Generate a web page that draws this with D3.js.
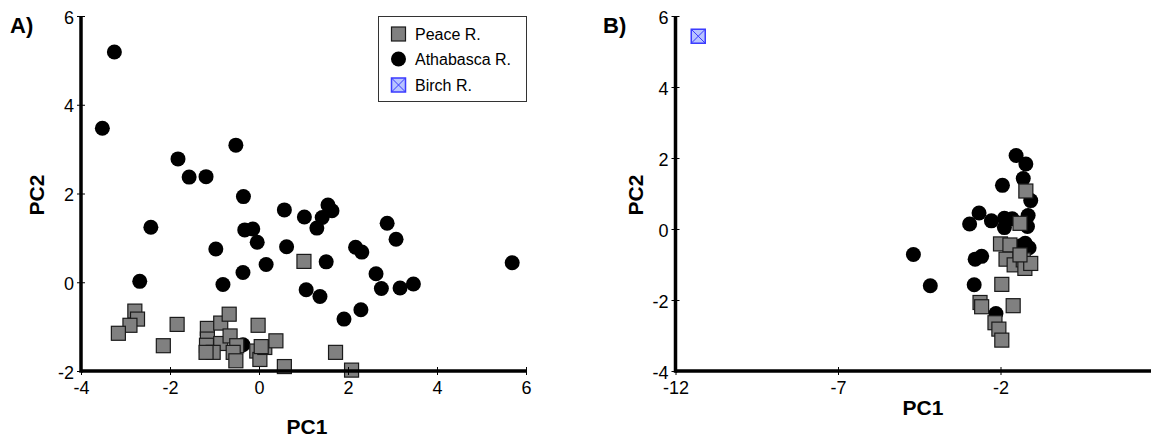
<!DOCTYPE html>
<html lang="en">
<head>
    <meta charset="UTF-8">
    <title>PCA scores</title>
    <script src="https://d3js.org/d3.v7.min.js"></script>
    <style>
        body { margin: 0; background: #fff; font-family: "Liberation Sans", Arial, sans-serif; }
        svg { display: block; }
        .axis text { font-family: "Liberation Sans", Arial, sans-serif; font-size: 18px; fill: #000; }
        .axis .domain { stroke: #000; stroke-width: 3.5px; }
        .axis .tick line { stroke: #000; stroke-width: 1px; }
        .title { font-weight: bold; font-size: 21px; }
        .panel { font-weight: bold; font-size: 22px; }
    </style>
</head>
<body>
<svg width="1151" height="437"></svg>
<script>
// Panel A scores [PC1, PC2]
const peaceA = [
    [1.01, 0.47], [-2.79, -0.65], [-2.73, -0.83], [-2.90, -0.97], [-3.16, -1.15],
    [-1.84, -0.95], [-2.15, -1.43], [-1.16, -1.04], [-1.16, -1.28], [-1.16, -1.55],
    [-1.18, -1.42], [-0.86, -0.92], [-0.67, -0.72], [-0.86, -1.38], [-0.65, -1.21],
    [-1.03, -1.58], [-0.50, -1.43], [-0.58, -1.58], [-0.52, -1.77], [-0.02, -0.97],
    [-0.05, -1.55], [0.02, -1.74], [0.13, -1.47], [0.38, -1.32], [0.57, -1.90],
    [1.72, -1.58], [2.08, -1.98], [-1.19, -1.58], [0.05, -1.45]
];
const athaA = [
    [-3.25, 5.19], [-3.52, 3.47], [-1.82, 2.78], [-1.57, 2.37], [-1.19, 2.38],
    [-0.52, 3.09], [-0.35, 1.93], [-2.43, 1.24], [-0.32, 1.18], [-0.14, 1.20],
    [-0.04, 0.90], [-0.97, 0.75], [0.16, 0.40], [-0.36, 0.22], [-0.81, -0.05],
    [-2.68, 0.02], [0.57, 1.63], [0.62, 0.80], [1.02, 1.47], [1.30, 1.22],
    [1.42, 1.46], [1.55, 1.74], [1.64, 1.61], [1.51, 0.46], [1.06, -0.17],
    [1.37, -0.32], [2.17, 0.79], [2.31, 0.68], [2.88, 1.33], [3.08, 0.97],
    [2.63, 0.19], [2.75, -0.14], [3.17, -0.13], [3.47, -0.04], [2.29, -0.62],
    [1.91, -0.83], [5.69, 0.44], [-0.36, -1.41]
];

// Panel B scores [PC1, PC2]
const peaceB = [
    [-1.22, 1.07], [-1.40, 0.16], [-2.00, -0.42], [-1.71, -0.45], [-1.83, -0.85],
    [-1.58, -1.01], [-1.30, -0.87], [-1.25, -1.11], [-1.07, -0.97], [-1.96, -1.56],
    [-1.61, -2.16], [-2.63, -2.07], [-2.58, -2.19], [-2.17, -2.64], [-2.05, -2.82],
    [-1.96, -3.13], [-1.40, -0.73]
];
const athaB = [
    [-1.52, 2.07], [-1.22, 1.83], [-1.30, 1.42], [-1.94, 1.23], [-1.07, 0.80],
    [-1.15, 0.38], [-1.17, 0.07], [-2.66, 0.45], [-2.95, 0.14], [-2.28, 0.23],
    [-1.88, 0.30], [-1.64, 0.29], [-1.88, 0.04], [-1.38, -0.47], [-1.12, -0.53],
    [-2.78, -0.85], [-2.58, -0.77], [-4.68, -0.72], [-4.16, -1.60], [-2.81, -1.57],
    [-2.14, -2.38], [-1.24, -0.40]
];
const birchB = [[-11.30, 5.43]];

const ticksAx = [-4, -2, 0, 2, 4, 6];
const ticksAy = [-2, 0, 2, 4, 6];
const ticksBx = [-12, -7, -2];
const ticksBy = [-4, -2, 0, 2, 4, 6];

const legendItems = ["Peace R.", "Athabasca R.", "Birch R."];

const svg = d3.select("svg");
const SQ = 14;   // square marker size
const R = 7.5;   // circle radius

function drawAxes(g, x, y, xt, yt) {
    const ax = g.append("g").attr("class", "axis")
        .attr("transform", `translate(0,${y.range()[0]})`)
        .call(d3.axisBottom(x).tickValues(xt).tickSize(4).tickSizeOuter(0));
    ax.selectAll(".tick line").attr("y1", -4);
    ax.selectAll(".tick text").attr("y", 10).attr("dy", "0.71em");
    ax.select(".domain").attr("d", `M${x.range()[0]},0H${x.range()[1]}`);

    const ay = g.append("g").attr("class", "axis")
        .attr("transform", `translate(${x.range()[0]},0)`)
        .call(d3.axisLeft(y).tickValues(yt).tickSize(4).tickSizeOuter(0));
    ay.selectAll(".tick line").attr("x1", 4);
    ay.selectAll(".tick text").attr("x", -7).attr("dy", "0.40em");
    // y-axis line runs down into the corner
    ay.select(".domain").attr("d", `M0,${y.range()[0] + 1.75}V${y.range()[1]}`);

    // plain hyphen for negatives, as in the original figure
    g.selectAll(".axis .tick text").text(d => d < 0 ? "-" + Math.abs(d) : d);
}

function drawPoints(g, x, y, peace, atha, birch) {
    g.selectAll(".atha").data(atha).enter().append("circle")
        .attr("cx", d => x(d[0])).attr("cy", d => y(d[1])).attr("r", R)
        .attr("fill", "#000");
    g.selectAll(".peace").data(peace).enter().append("rect")
        .attr("x", d => x(d[0]) - SQ / 2).attr("y", d => y(d[1]) - SQ / 2)
        .attr("width", SQ).attr("height", SQ)
        .attr("fill", "#808080").attr("stroke", "#1a1a1a").attr("stroke-width", 1.2);
    birch.forEach(d => birchMarker(g, x(d[0]), y(d[1])));
}

function birchMarker(g, cx, cy) {
    const h = SQ / 2;
    g.append("rect").attr("x", cx - h).attr("y", cy - h).attr("width", SQ).attr("height", SQ)
        .attr("fill", "#b8c4ff").attr("stroke", "#3a3aff").attr("stroke-width", 1.5);
    g.append("path").attr("d", `M${cx - h},${cy - h}L${cx + h},${cy + h}M${cx + h},${cy - h}L${cx - h},${cy + h}`)
        .attr("stroke", "#3a3aff").attr("stroke-width", 1).attr("fill", "none");
}

// Panel A
const xA = d3.scaleLinear().domain([-4, 6]).range([81, 526]);
const yA = d3.scaleLinear().domain([-2, 6]).range([371, 16]);
const gA = svg.append("g");
drawPoints(gA, xA, yA, peaceA, athaA, []);
drawAxes(gA, xA, yA, ticksAx, ticksAy);
gA.append("text").attr("class", "panel").attr("x", 10).attr("y", 33).text("A)");
gA.append("text").attr("class", "title").attr("x", 307).attr("y", 434).attr("text-anchor", "middle").text("PC1");
gA.append("text").attr("class", "title").attr("transform", "translate(44,195) rotate(-90)")
    .attr("text-anchor", "middle").text("PC2");

// legend
const lg = gA.append("g");
lg.append("rect").attr("x", 378.5).attr("y", 16.5).attr("width", 148).attr("height", 85)
    .attr("fill", "#fff").attr("stroke", "#333").attr("stroke-width", 1);
const rows = [34, 59, 85];
legendItems.forEach((name, i) => {
    const cy = rows[i], cx = 398.5;
    if (i === 0) {
        lg.append("rect").attr("x", cx - SQ / 2).attr("y", cy - SQ / 2).attr("width", SQ).attr("height", SQ)
            .attr("fill", "#808080").attr("stroke", "#1a1a1a").attr("stroke-width", 1.2);
    } else if (i === 1) {
        lg.append("circle").attr("cx", cx).attr("cy", cy).attr("r", R).attr("fill", "#000");
    } else {
        birchMarker(lg, cx, cy);
    }
    lg.append("text").attr("x", 415).attr("y", cy + 6).attr("font-size", 16).text(name);
});

// Panel B (x axis runs past the right edge of the figure)
const xB = d3.scaleLinear().domain([-12, 3]).range([675.5, 1163]);
const yB = d3.scaleLinear().domain([-4, 6]).range([371, 16]);
const gB = svg.append("g");
drawPoints(gB, xB, yB, peaceB, athaB, birchB);
drawAxes(gB, xB, yB, ticksBx, ticksBy);
gB.append("text").attr("class", "panel").attr("x", 603).attr("y", 33).text("B)");
gB.append("text").attr("class", "title").attr("x", 923).attr("y", 415).attr("text-anchor", "middle").text("PC1");
gB.append("text").attr("class", "title").attr("transform", "translate(643,195) rotate(-90)")
    .attr("text-anchor", "middle").text("PC2");
</script>
</body>
</html>
